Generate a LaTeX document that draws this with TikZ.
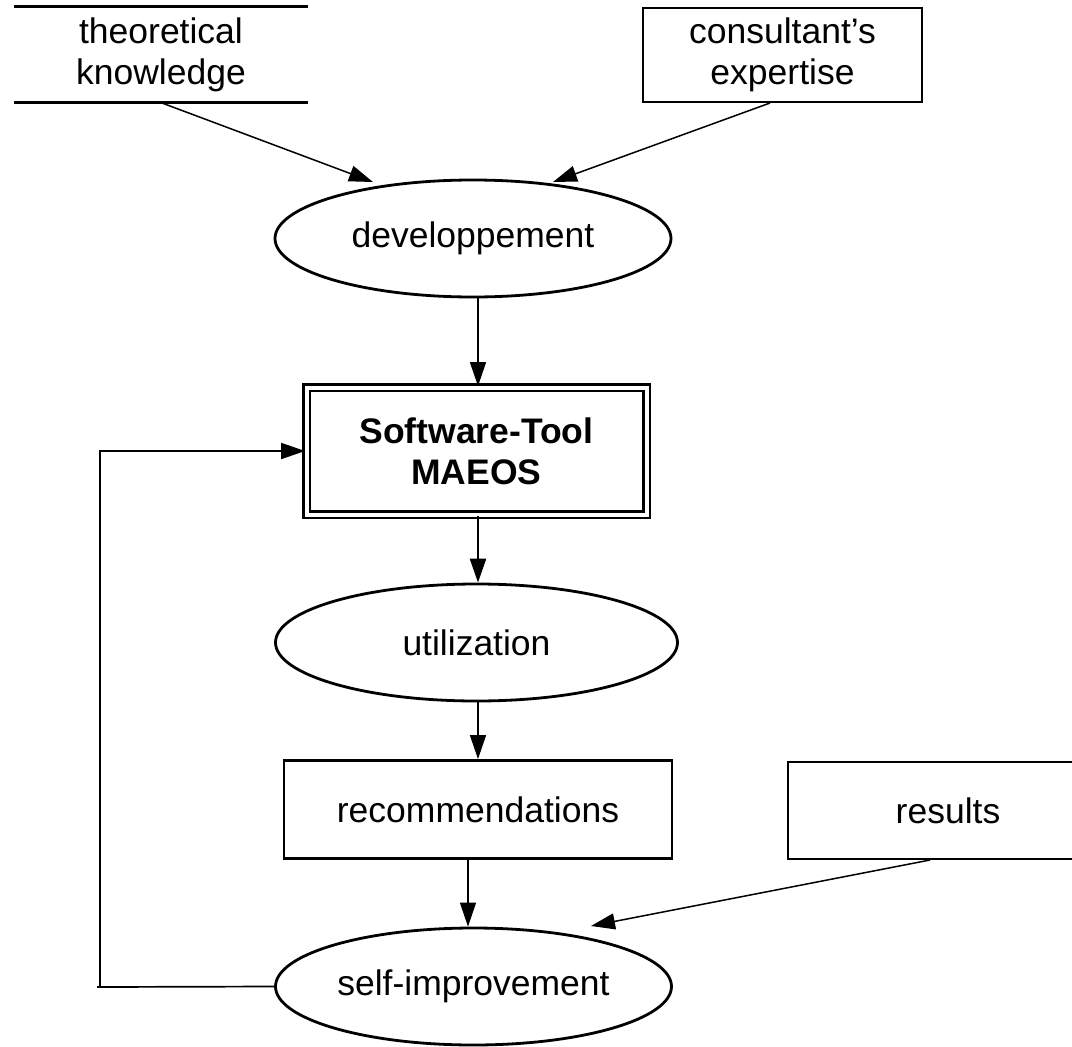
\documentclass[tikz,border=0pt]{standalone}
\usepackage{fontspec}
\setmainfont{Liberation Sans}
\usetikzlibrary{shapes.geometric,arrows.meta}
\begin{document}
\begin{tikzpicture}[x=1pt,y=-1pt,
  every node/.style={font=\fontsize{35.5}{41}\selectfont, align=center, inner sep=0pt},
  proc/.style={draw, line width=2.8pt, ellipse, minimum width=396pt, minimum height=117pt},
  ent/.style={draw, line width=2.8pt, rectangle},
  store/.style={rectangle},
  link/.style={line width=1.5pt, -{Triangle[length=24pt,width=16pt]}},
  fatlink/.style={line width=2.6pt, -{Triangle[length=24pt,width=16pt]}},
  backlink/.style={line width=1.7pt, -{Triangle[length=24pt,width=16pt]}}
]
\useasboundingbox (0,0) rectangle (1072,1047);

% external sources
\node[store, minimum width=294pt, minimum height=95pt] (tk) at (161,54.5) {theoretical\\knowledge};
\draw[line width=2.8pt] (tk.north west) -- (tk.north east);
\draw[line width=2.8pt] (tk.south west) -- (tk.south east);
\node[ent, minimum width=279pt, minimum height=94pt] (ce) at (782.5,55) {consultant's\\expertise};

% processes and the tool
\node[proc] (dev) at (473,238.5) {developpement};
\node[draw, double, line width=2.8pt, double distance=4pt, minimum width=340pt, minimum height=127pt,
      font=\fontsize{35.5}{41}\selectfont\bfseries] (tool) at (476.5,451) {Software-Tool\\MAEOS};
\node[proc, minimum width=402pt] (use) at (476.5,642.5) {utilization};
\node[ent, minimum width=388pt, minimum height=98pt] (rec) at (478,809.5) {recommendations};
\node[ent, minimum width=320pt, minimum height=97pt] (res) at (948,810.5) {results};
\node[proc] (self) at (473.5,986.5) {self-improvement};

% flows into development
\coordinate (tka) at (162,103);
\coordinate (dva) at (373,182);
\draw[link] (tka) -- (dva);
\coordinate (cea) at (770,103);
\coordinate (dvb) at (553,182);
\draw[link] (cea) -- (dvb);

% main vertical chain
\draw[link] (dev.south -| 478,0) -- (tool.north -| 478,0);
\draw[fatlink] (tool.south -| 478,0) -- (use.north -| 478,0);
\draw[link] (use.south -| 478,0) -- (rec.north -| 478,0);
\draw[link] (rec.south -| 468,0) -- (self.north -| 468,0);

% results feed the improvement step
\coordinate (rsa) at (930,860);
\coordinate (sfa) at (591,926);
\draw[link] (rsa) -- (sfa);

% feedback loop
\coordinate (lp) at (100,987);
\coordinate (lpend) at (97,987);
\draw[line width=1.7pt] (lp) -- (lpend);
\draw[backlink] (self.west) -- (lp) |- (tool.west);
\end{tikzpicture}
\end{document}
